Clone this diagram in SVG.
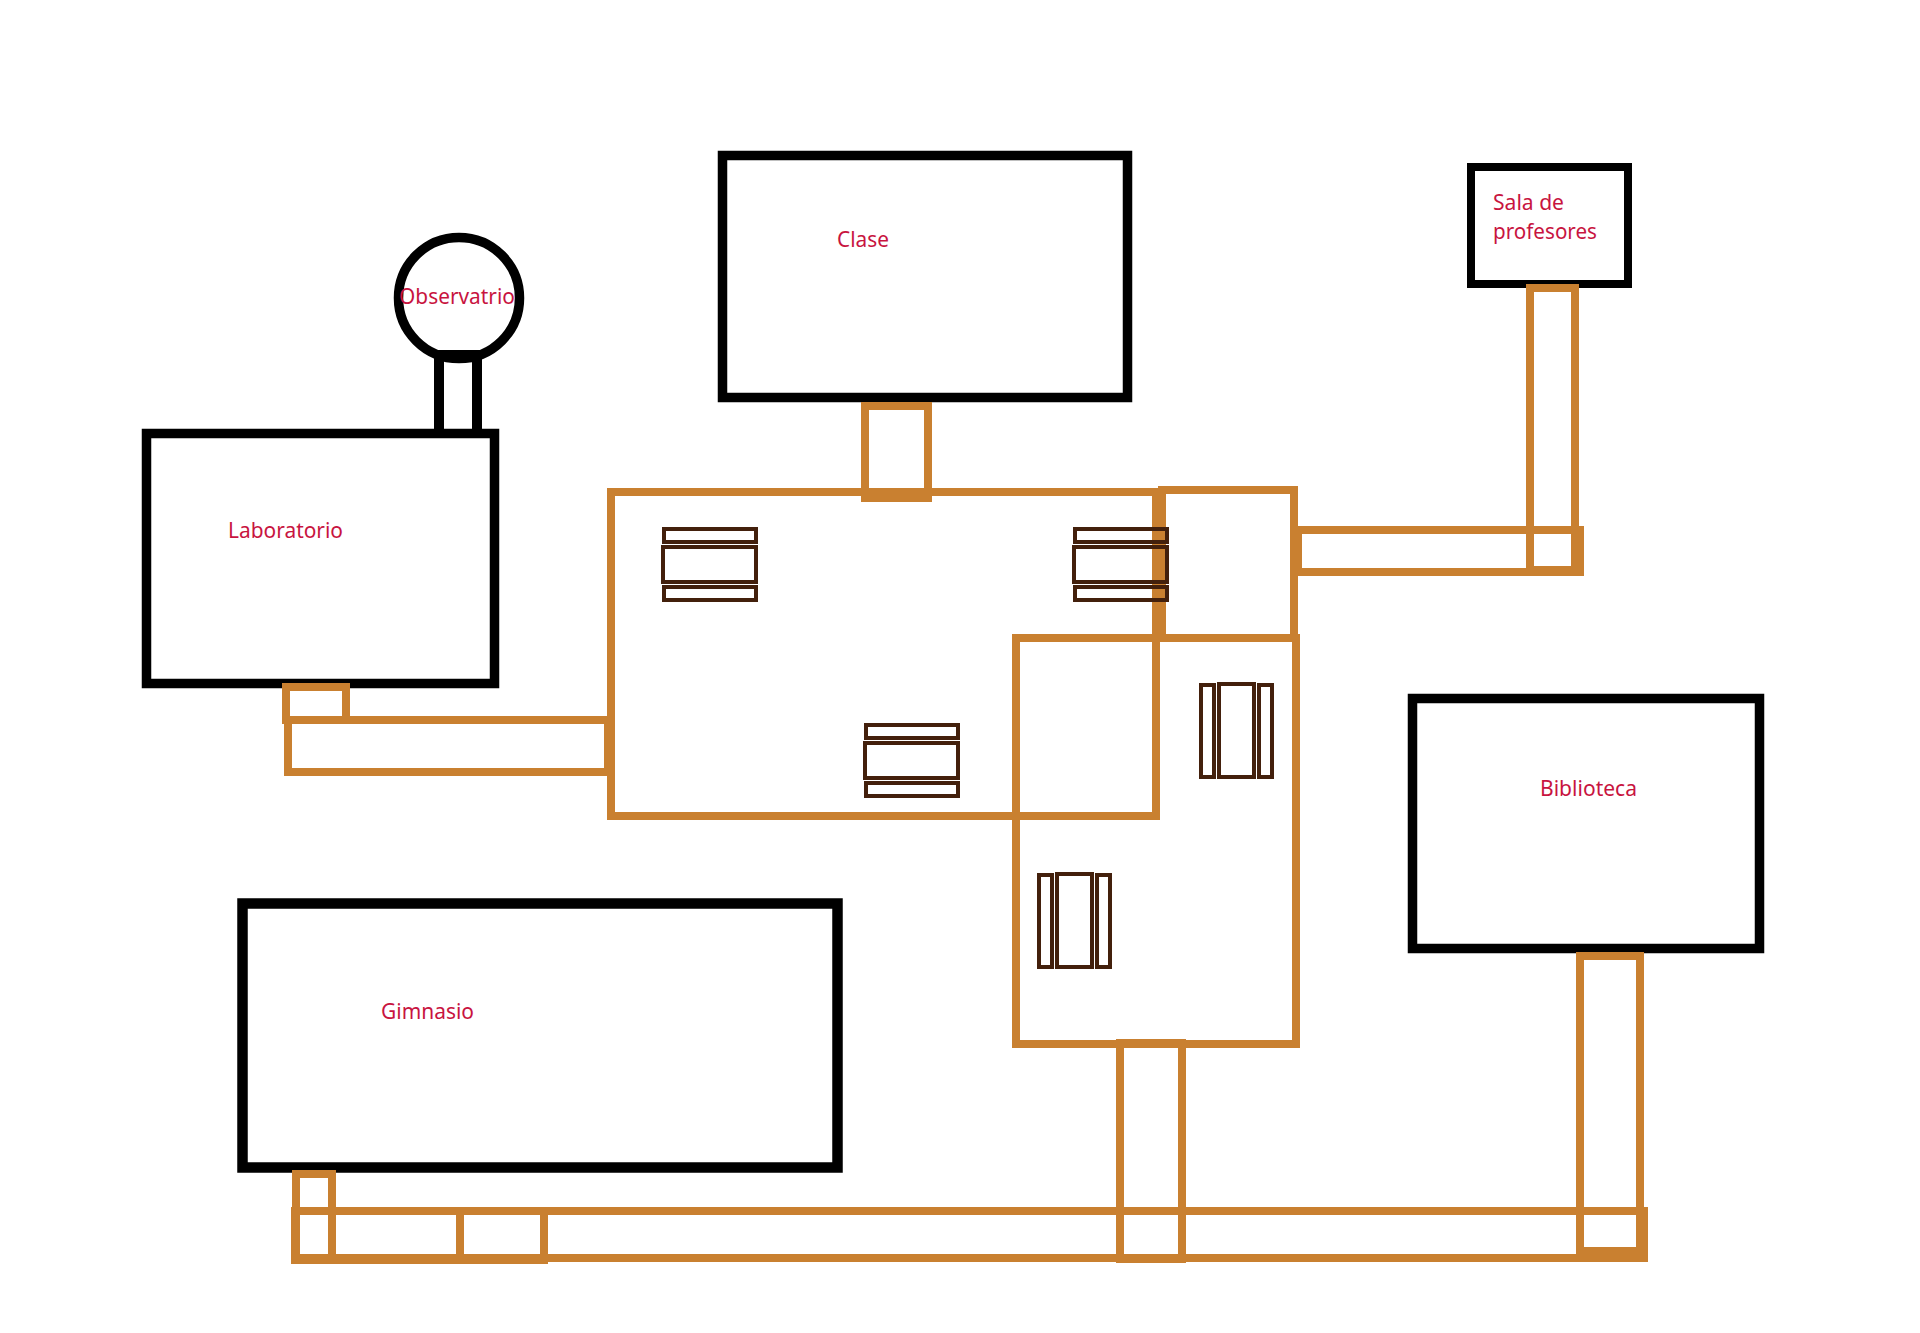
<svg xmlns="http://www.w3.org/2000/svg" width="1920" height="1333" viewBox="0 0 1920 1333">
<style>
.b{fill:none;stroke:#000;stroke-width:9.5;stroke-linejoin:miter}
.o{fill:none;stroke:#c98030;stroke-width:8;stroke-linejoin:miter}
.f{fill:none;stroke:#43200c;stroke-width:4}
.of{fill:#c98030;stroke:none}
.t{font-family:"Noto Sans","Open Sans","Liberation Sans",sans-serif;font-size:22px;fill:#c8143f}
</style>
<rect width="1920" height="1333" fill="#fff"/>
<g id="observatorio">
<circle class="b" cx="459" cy="298" r="60.5"/>
<path class="b" d="M439 429V355H477V429" style="stroke-width:10"/>
<text class="t" x="399" y="304" textLength="116" lengthAdjust="spacingAndGlyphs">Observatrio</text>
</g>
<g id="laboratorio">
<rect class="b" x="146.500" y="433.500" width="348" height="250"/>
<text class="t" x="228" y="538" textLength="115" lengthAdjust="spacingAndGlyphs">Laboratorio</text>
</g>
<g id="clase">
<rect class="b" x="722.500" y="155.500" width="405" height="242"/>
<text class="t" x="837" y="247" textLength="52" lengthAdjust="spacingAndGlyphs">Clase</text>
</g>
<g id="sala-de-profesores">
<rect class="b" x="1471" y="167" width="157" height="117" style="stroke-width:8"/>
<text class="t" x="1493" y="210" textLength="71" lengthAdjust="spacingAndGlyphs">Sala de</text>
<text class="t" x="1493" y="239" textLength="104" lengthAdjust="spacingAndGlyphs">profesores</text>
</g>
<g id="biblioteca">
<rect class="b" x="1412.500" y="698.500" width="347" height="250"/>
<text class="t" x="1540" y="796" textLength="97" lengthAdjust="spacingAndGlyphs">Biblioteca</text>
</g>
<g id="gimnasio">
<rect class="b" x="242.500" y="903.500" width="595" height="264" style="stroke-width:10.5"/>
<text class="t" x="381" y="1019" textLength="93" lengthAdjust="spacingAndGlyphs">Gimnasio</text>
</g>
<g id="connectors">
<rect class="o" x="286" y="687" width="60" height="33"/>
<rect class="o" x="288" y="720" width="320" height="52"/>
<rect class="o" x="865" y="406" width="63" height="92"/>
<rect class="o" x="1530" y="288" width="45" height="282"/>
<rect class="o" x="1298" y="530" width="282" height="42"/>
<rect class="of" x="1571" y="526" width="13" height="50"/>
<rect class="o" x="1120" y="1043" width="62" height="216"/>
<rect class="o" x="1580" y="956" width="60" height="295"/>
<rect class="o" x="295" y="1211" width="1349" height="47"/>
<rect class="o" x="296" y="1174" width="36" height="86"/>
<rect class="o" x="295" y="1211" width="249" height="49"/>
<rect class="o" x="460" y="1211" width="84" height="49"/>
<rect class="of" x="464" y="1254" width="76" height="2"/>
</g>
<g id="aula-principal">
<rect class="o" x="611" y="492" width="545" height="324"/>
</g>
<g id="sala-pequena">
<rect class="o" x="1162" y="490" width="132" height="148"/>
</g>
<g id="sala-inferior">
<rect class="o" x="1016" y="638" width="280" height="406"/>
</g>
<g id="mobiliario-1">
<rect class="f" x="664" y="529" width="92" height="13"/>
<rect class="f" x="663" y="547" width="93" height="35"/>
<rect class="f" x="664" y="587" width="92" height="13"/>
</g>
<g id="mobiliario-2">
<rect class="f" x="1075" y="529" width="92" height="13"/>
<rect class="f" x="1074" y="547" width="93" height="35"/>
<rect class="f" x="1075" y="587" width="92" height="13"/>
</g>
<g id="mobiliario-3">
<rect class="f" x="866" y="725" width="92" height="13"/>
<rect class="f" x="865" y="743" width="93" height="35"/>
<rect class="f" x="866" y="783" width="92" height="13"/>
</g>
<g id="mobiliario-4">
<rect class="f" x="1201" y="685" width="13" height="92"/>
<rect class="f" x="1219" y="684" width="35" height="93"/>
<rect class="f" x="1259" y="685" width="13" height="92"/>
</g>
<g id="mobiliario-5">
<rect class="f" x="1039" y="875" width="13" height="92"/>
<rect class="f" x="1057" y="874" width="35" height="93"/>
<rect class="f" x="1097" y="875" width="13" height="92"/>
</g>
</svg>
